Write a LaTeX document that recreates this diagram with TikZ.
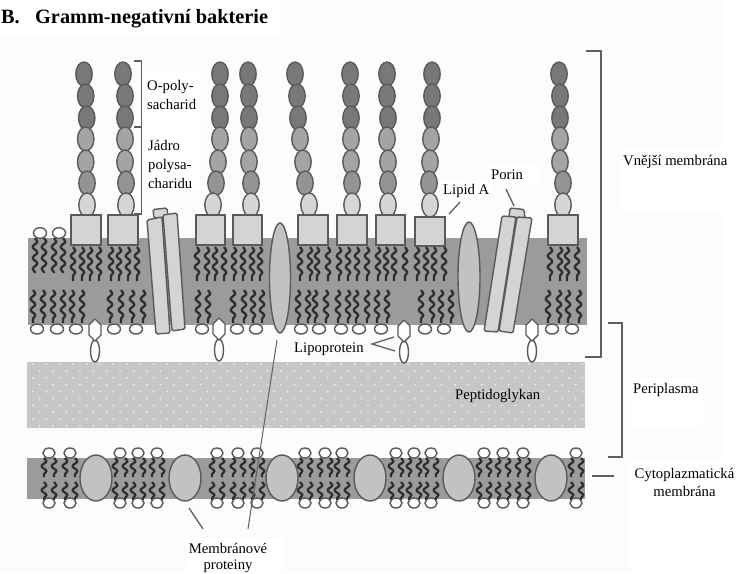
\documentclass[tikz,border=0pt]{standalone}
\usepackage{fontspec}
\setmainfont{Liberation Serif}
\usetikzlibrary{decorations.pathmorphing}
\definecolor{memb}{HTML}{9B9B9B}
\definecolor{peri}{HTML}{C6C6C6}
\definecolor{edge}{HTML}{5A5A5A}
\definecolor{beadA}{HTML}{787878}
\definecolor{beadB}{HTML}{A4A4A4}
\definecolor{beadC}{HTML}{D6D6D6}
\definecolor{box}{HTML}{D4D4D4}
\definecolor{prot}{HTML}{C2C2C2}
\definecolor{lead}{HTML}{606060}
\tikzset{
  lbl/.style={inner sep=0pt,anchor=base west,font=\fontsize{14.7}{17}\selectfont},
  lblc/.style={inner sep=0pt,anchor=base,font=\fontsize{14.7}{17}\selectfont},
  ttl/.style={inner sep=0pt,anchor=base west,font=\fontsize{20.3}{22}\selectfont\bfseries},
  outl/.style={draw=edge,line width=1.4pt},
  tailline/.style={draw=black!82,line width=2.3pt,line join=round,decorate,decoration={snake,segment length=11pt,amplitude=2.3pt}},
  tailshort/.style={draw=black!82,line width=2.2pt,line join=round,decorate,decoration={snake,segment length=10pt,amplitude=2.5pt}},
  leader/.style={draw=lead,line width=1.3pt},
  brk/.style={draw=lead,line width=1.4pt},
}
\newcommand\bead[3]{\draw[outl,fill=#3] (#1,#2) ellipse [x radius=8.2pt,y radius=12pt];}
\newcommand\beadchain[7]{%
  \bead{#1}{74}{beadA}\bead{#2}{96}{beadA}\bead{#3}{118}{beadA}%
  \bead{#4}{139}{beadB}\bead{#5}{162}{beadB}\bead{#6}{183}{beadB!90!black}\bead{#7}{205}{beadC}}
\newcommand\hexprot[2]{%
  \draw[outl,fill=white] (#1,#2+32) ellipse [x radius=4.5pt,y radius=11pt];
  \draw[outl,fill=white,line join=round] (#1,#2) -- (#1+6,#2+6) -- (#1+6,#2+16) -- (#1,#2+22) -- (#1-6,#2+16) -- (#1-6,#2+6) -- cycle;}
\begin{document}
\begin{tikzpicture}[x=1pt,y=-1pt]
\useasboundingbox (0,0) rectangle (736,573);
\fill[white] (0,0) rectangle (736,573);
\fill[black!1] (0,0) rectangle (722,573);
% white patches behind the labels
\fill[white] (0,0) rectangle (280,36);
\fill[white] (145,72) rectangle (200,190);
\fill[white] (622,150) rectangle (722,213);
\fill[white] (632,378) rectangle (703,426);
\fill[white] (630,462) rectangle (736,573);
\fill[white] (441,180) rectangle (490,200);
\fill[white] (488,166) rectangle (538,184);
\fill[white] (186,538) rectangle (284,573);

% outer membrane
\fill[memb] (28,238) rectangle (587,325);
% peptidoglycan
\fill[peri] (27,362) rectangle (585,428);
\foreach \r in {0,...,9}{
  \foreach \c in {0,...,41}{
    \pgfmathsetmacro\dx{mod(\r,2)*6.7}
    \fill[white,opacity=.75] (33+\c*13.4+\dx,364+\r*6.9) circle (1pt);
  }
}
% inner membrane
\fill[memb] (27,458) rectangle (585,499);

% top tails of the outer membrane
\foreach \x in {35,44,54,63}{\path[tailline] (\x,238) -- (\x,273);}
\foreach \x in {73,82,90,99,111,119,128,137,197,207,215,224,234,243,252,260,300,310,317,328,339,348,357,367,378,386,394,405,417,426,434,444,550,560,567,577}{
  \path[tailline] (\x,247) -- (\x,281);}
% bottom tails of the outer membrane
\foreach \x in {33,43,53,63,72,82,110,121,132,143,198,208,233,244,253,262,298,308,315,326,338,348,356,367,377,387,421,432,441,451,548,559,568,579}{
  \path[tailline] (\x,290) -- (\x,323);}
% heads, outer membrane
\foreach \x in {40,59}{\draw[outl,fill=white] (\x,233) ellipse [x radius=6.5pt,y radius=5.3pt];}
\foreach \x in {37,57,76,114,136,202,237,256,301,319,341,359,381,425,444,552,572}{
  \draw[outl,fill=white] (\x,329) ellipse [x radius=6.5pt,y radius=5pt];}

% O-chains
\beadchain{84}{85.7}{86.7}{85.7}{85.7}{87}{87}
\beadchain{123}{125}{125}{125}{125}{126}{126}
\beadchain{220}{220}{220}{220}{218}{216}{213}
\beadchain{248}{249}{249}{249}{249}{251}{251}
\beadchain{295}{297}{298}{300}{303}{305}{309}
\beadchain{350}{351}{351}{351}{351}{352}{352}
\beadchain{387}{387}{388}{387}{388}{388}{388}
\beadchain{432}{432}{432}{431}{430}{429}{430}
\beadchain{559}{560}{560}{560}{560}{563}{563}

% lipid A boxes
\foreach \a/\b in {71/101,108/138,196/225,233/262,298/328,337/367,376/405,548/578}{
  \draw[outl,fill=box] (\a,215) rectangle (\b,245);}
\draw[outl,fill=box] (415,217) rectangle (445,246);

% spanning proteins
\draw[outl,fill=prot] (280,278) ellipse [x radius=10.5pt,y radius=55pt];
\draw[outl,fill=prot] (469,277) ellipse [x radius=11pt,y radius=55pt];

% porin, left
\draw[outl,fill=box,rounded corners=1.5pt] (153,209.5) -- (167,208) -- (168,217) -- (154,218) -- cycle;
\draw[outl,fill=box,rounded corners=1.5pt] (163,215) -- (177,213) -- (185,329) -- (172,331) -- cycle;
\draw[outl,fill=box,rounded corners=1.5pt] (147,220) -- (162,217) -- (170,333) -- (156,334) -- cycle;
% porin, right
\draw[outl,fill=box,rounded corners=1.5pt] (510,208) -- (524,209.5) -- (525,218) -- (509,217) -- cycle;
\draw[outl,fill=box,rounded corners=1.5pt] (517,217) -- (532,218) -- (513,333) -- (499,331) -- cycle;
\draw[outl,fill=box,rounded corners=1.5pt] (502,216) -- (516,217) -- (498,332) -- (484,331) -- cycle;

% lipoproteins
\hexprot{95}{319}
\hexprot{219}{318}
\hexprot{404}{320}
\hexprot{532}{319}

% inner membrane lipids
\foreach \x in {49,70,120,138,157,217,238,257,305,325,342,396,414,431,484,503,523,576}{
  \foreach \s in {-5,5}{
    \path[tailshort] (\x+\s,458) -- (\x+\s,477);
    \path[tailshort] (\x+\s,482) -- (\x+\s,500);
  }
  \draw[outl,fill=white] (\x,453) ellipse [x radius=6pt,y radius=5pt];
  \draw[outl,fill=white] (\x,503) ellipse [x radius=6pt,y radius=5pt];
}
\foreach \x in {96,185,282,370,459,551}{
  \draw[outl,fill=prot] (\x,478) ellipse [x radius=16pt,y radius=23pt];}

% labels
\node[ttl] (tB) at (1,23) {B.};
\node[ttl] (tG) at (35,23) {Gramm-negativní bakterie};
\node[lbl] (op1) at (147,90) {O-poly-};
\node[lbl] (op2) at (147,109) {sacharid};
\node[lbl] (jp1) at (148,150) {Jádro};
\node[lbl] (jp2) at (148,169) {polysa-};
\node[lbl] (jp3) at (148,188) {charidu};
\node[lbl] (lipA) at (443,194) {Lipid A};
\node[lbl] (porin) at (491,179) {Porin};
\node[lbl] (vne) at (623,165) {Vnější membrána};
\node[lbl] (per) at (633,393) {Periplasma};
\node[lblc] (cy1) at (684.5,478) {Cytoplazmatická};
\node[lblc] (cy2) at (684.5,496) {membrána};
\node[lbl] (lpp) at (294,352) {Lipoprotein};
\node[lbl] (pgl) at (455,399) {Peptidoglykan};
\node[lblc] (mp1) at (228,553) {Membránové};
\node[lblc] (mp2) at (228,569) {proteiny};

% leader ends
\coordinate (la1) at (460,202); \coordinate (la2) at (449,214);
\coordinate (po1) at (506,189); \coordinate (po2) at (514,206);
\coordinate (lp0) at (372,344); \coordinate (lp1) at (394,337); \coordinate (lp2) at (395,351);
\coordinate (mm1) at (277,340); \coordinate (mm2) at (248,529);
\coordinate (ms1) at (189,508); \coordinate (ms2) at (203,529);
\coordinate (cm1) at (592,476); \coordinate (cm2) at (614,476);
\draw[leader] (la1) -- (la2);
\draw[leader] (po1) -- (po2);
\draw[leader] (lp1) -- (lp0) -- (lp2);
\draw[leader,line width=1pt] (mm1) -- (mm2);
\draw[leader] (ms1) -- (ms2);
\draw[leader] (cm1) -- (cm2);

% brackets
\coordinate (b1a) at (134,61); \coordinate (b1b) at (141.5,61); \coordinate (b1c) at (141.5,214); \coordinate (b1d) at (134,214);
\coordinate (b1e) at (134,127); \coordinate (b1f) at (141.5,127);
\draw[brk] (b1a) -- (b1b) -- (b1c) -- (b1d);
\draw[brk,line width=2pt] (b1e) -- (b1f);
\coordinate (b2a) at (586,51); \coordinate (b2b) at (601,51); \coordinate (b2c) at (601,357); \coordinate (b2d) at (585,357);
\draw[brk] (b2a) -- (b2b) -- (b2c) -- (b2d);
\coordinate (b3a) at (608,323); \coordinate (b3b) at (622,323); \coordinate (b3c) at (622,457); \coordinate (b3d) at (608,457);
\draw[brk] (b3a) -- (b3b) -- (b3c) -- (b3d);
\end{tikzpicture}
\end{document}
